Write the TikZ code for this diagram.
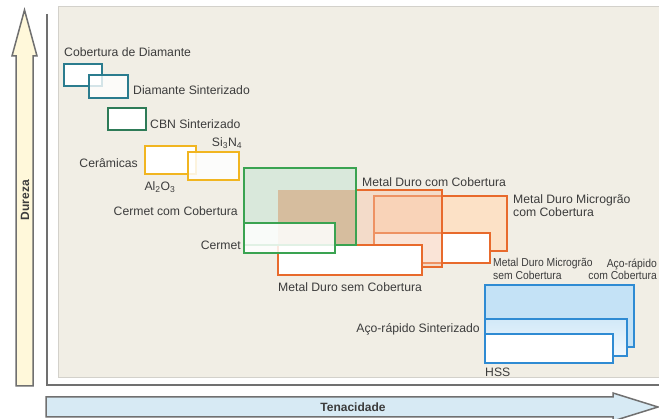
\documentclass[tikz,border=0pt]{standalone}
\usepackage{fontspec}
\setmainfont{Liberation Sans}
\usepackage{graphicx}
\definecolor{txt}{HTML}{3C3C3C}
\definecolor{panelbg}{HTML}{F1EEE5}
\definecolor{panelln}{HTML}{D3D1CB}
\definecolor{axisln}{HTML}{707070}
\definecolor{ybg}{HTML}{FFF8DA}
\definecolor{bbg}{HTML}{D7EAF4}
\definecolor{cteal}{HTML}{2B7C8E}
\definecolor{ccbn}{HTML}{2E7B57}
\definecolor{cyel}{HTML}{F1B520}
\definecolor{cgrn}{HTML}{3AA351}
\definecolor{corg}{HTML}{E86A2C}
\definecolor{cblu}{HTML}{2F8BD3}
\definecolor{fgrn}{HTML}{D9E8DB}
\definecolor{ftan}{HTML}{D6BD9E}
\definecolor{fpeach}{HTML}{F6C4A8}
\definecolor{fmg}{HTML}{FCE1C6}
\definecolor{fblu}{HTML}{C4E2F6}
\definecolor{fblt}{HTML}{D2E9F8}
\definecolor{fblb}{HTML}{F0F8FE}
\tikzset{
  rbox/.style={draw=#1, line width=2.2pt, inner sep=0pt, outer sep=0pt,
    anchor=north west, fill=white},
  lbl/.style={font=\fontsize{12.2}{14}\selectfont, text=txt, inner sep=0pt},
  lbltwo/.style={font=\fontsize{12.2}{13}\selectfont, text=txt, inner sep=0pt, align=left},
  smalllbl/.style={font=\fontsize{11.5}{11}\selectfont, text=txt, inner sep=0pt},
  axislbl/.style={font=\fontsize{12}{14}\selectfont\bfseries, text=txt, inner sep=0pt},
  arrowshape/.style={draw=axisln, line width=1.5pt, line join=miter}
}
\newcommand{\narrow}[1]{\scalebox{0.9}[1]{#1}}
\begin{document}
\begin{tikzpicture}[x=1pt, y=-1pt]
\useasboundingbox (0,0) rectangle (659,419);
\fill[white] (0,0) rectangle (659,419);

% panel
\draw[fill=panelbg, draw=panelln, line width=1pt] (58,7) rectangle (668,378);
% axes
\draw[axisln, line width=2pt] (47,14) -- (47,385) -- (668,385);

% hardness arrow
\draw[arrowshape, fill=ybg] (16,386) -- (16,56) -- (12,56) -- (24.5,10) -- (37,56)
  -- (33,56) -- (33,386) -- cycle;
\node[axislbl, rotate=90] (dureza) at (25,200) {Dureza};

% toughness arrow
\draw[arrowshape, fill=bbg] (46,397) -- (613,397) -- (613,393) -- (658,407)
  -- (613,421) -- (613,417) -- (46,417) -- cycle;
\node[axislbl] (tenac) at (353,407) {Tenacidade};

% diamond, CBN and ceramics
\node[rbox=cteal, minimum width=38pt, minimum height=22pt] (cdia) at (64,64) {};
\node[rbox=cteal, fill opacity=0.8, minimum width=39pt, minimum height=23pt] (dsin) at (89,75) {};
\node[rbox=ccbn, minimum width=38pt, minimum height=22pt] (cbn) at (108,108) {};
\node[rbox=cyel, minimum width=51pt, minimum height=28pt] (alo) at (145,146) {};
\node[rbox=cyel, fill opacity=0.85, minimum width=51pt, minimum height=28pt] (sin) at (188,152) {};

% micrograin carbide
\node[rbox=corg, fill=fmg, minimum width=133pt, minimum height=55pt] (mgcc) at (374,196) {};
\node[rbox=corg, minimum width=116pt, minimum height=30pt] (mgsc) at (374,233) {};
% coated carbide
\node[rbox=corg, fill=fpeach, fill opacity=0.45, minimum width=164pt, minimum height=77pt] (mdcc) at (278,190) {};
% uncoated carbide
\node[rbox=corg, minimum width=144pt, minimum height=30pt] (mdsc) at (278,245) {};
% coated cermet and its overlap with coated carbide
\node[rbox=cgrn, fill=fgrn, minimum width=112pt, minimum height=77pt] (cc) at (244,168) {};
\fill[ftan] (mdcc.north west) rectangle (cc.south east);
\draw[cgrn, line width=2.2pt] (cc.north west) rectangle (cc.south east);
% cermet
\node[rbox=cgrn, fill opacity=0.85, minimum width=91pt, minimum height=30pt] (cermet) at (244,223) {};

% high speed steels
\node[rbox=cblu, fill=fblu, minimum width=149pt, minimum height=62pt] (acc) at (485,285) {};
\node[rbox=cblu, top color=fblt, bottom color=fblb, minimum width=142pt, minimum height=37pt] (ars) at (485,319) {};
\node[rbox=cblu, minimum width=128pt, minimum height=29pt] (hss) at (485,334) {};

% labels
\node[lbl, anchor=west] (lcdia) at (64,52) {Cobertura de Diamante};
\node[lbl, anchor=west] (ldsin) at (133,90) {Diamante Sinterizado};
\node[lbl, anchor=west] (lcbn) at (150,124) {CBN Sinterizado};
\node[lbl] (lsin) at (227,143) {Si\textsubscript{3}N\textsubscript{4}};
\node[lbl, anchor=east] (lcer) at (138,163) {Cerâmicas};
\node[lbl] (lalo) at (160,187) {Al\textsubscript{2}O\textsubscript{3}};
\node[lbl, anchor=east] (lcc) at (238,211) {Cermet com Cobertura};
\node[lbl, anchor=east] (lcermet) at (241,245) {Cermet};
\node[lbl, anchor=west] (lmdcc) at (362,182) {Metal Duro com Cobertura};
\node[lbltwo, anchor=west] (lmgcc) at (513,206) {Metal Duro Microgrão\\com Cobertura};
\node[lbl, anchor=west] (lmdsc) at (278,287) {Metal Duro sem Cobertura};
\node[smalllbl, anchor=west] (lmgsc) at (493,264) {\narrow{Metal Duro Microgrão}};
\node[smalllbl, anchor=west] (lmgsc2) at (493,275) {\narrow{sem Cobertura}};
\node[smalllbl, anchor=east] (lacc) at (657,264) {\narrow{Aço-rápido}};
\node[smalllbl, anchor=east] (lacc2) at (657,275) {\narrow{com Cobertura}};
\node[lbl, anchor=east] (lars) at (480,329) {Aço-rápido Sinterizado};
\node[lbl, anchor=west] (lhss) at (485,372) {HSS};
\end{tikzpicture}
\end{document}
